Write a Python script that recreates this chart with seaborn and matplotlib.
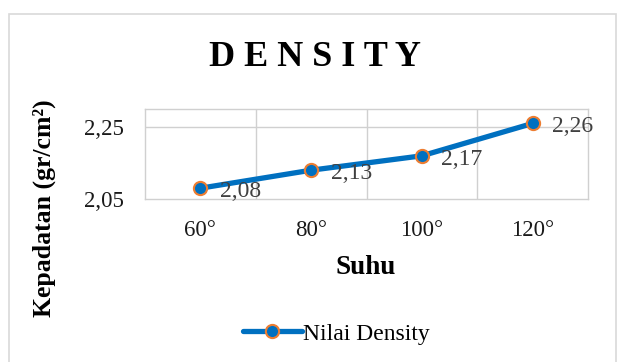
import matplotlib
matplotlib.use("Agg")
import matplotlib.pyplot as plt
import seaborn as sns
import pandas as pd
from matplotlib.patches import Rectangle
from matplotlib.lines import Line2D

categories = ["60°", "80°", "100°", "120°"]
values = [2.08, 2.13, 2.17, 2.26]
y_ticks = [2.05, 2.25]
y_tick_labels = ["2,05", "2,25"]
series_name = "Nilai Density"

sns.set_theme(style="white")
plt.rcParams['font.family'] = ['Liberation Serif', 'DejaVu Serif']

df = pd.DataFrame({"Suhu": categories, "val": values})

fig = plt.figure(figsize=(6.19, 3.62), dpi=100)
ax = fig.add_axes([145/619, 1-199/362, (588-145)/619, (199-109)/362])

blue = "#0070C0"
orange = "#ED7D31"
sns.lineplot(data=df, x="Suhu", y="val", ax=ax, color=blue, linewidth=3.8,
             marker="o", markersize=9.5, markerfacecolor=blue,
             markeredgecolor=orange, markeredgewidth=1.5, sort=False)

ax.set_xlim(-0.5, 3.5)
ax.set_ylim(2.05, 2.30)
ax.set_yticks(y_ticks)
ax.set_yticklabels(y_tick_labels)
ax.set_xticks(range(len(categories)))
ax.set_xticklabels(categories)
grid_c = "#D0D0D0"
for xb in [0.5, 1.5, 2.5]:
    ax.axvline(xb, color=grid_c, lw=1, zorder=0)
for yv in [2.25]:
    ax.axhline(yv, color=grid_c, lw=1, zorder=0)
for s in ax.spines.values():
    s.set_color(grid_c)
    s.set_linewidth(1)
ax.tick_params(axis="both", length=0, labelsize=16.5, colors="#1a1a1a")
ax.tick_params(axis="y", pad=15)
ax.tick_params(axis="x", pad=15)

for i, v in enumerate(values):
    ax.annotate(f"{v:.2f}".replace(".", ","), (i, v), xytext=(14, -2.5),
                textcoords="offset points", ha="left", va="center",
                fontsize=17, color="#404040")

ax.set_xlabel("")
ax.set_ylabel("")
fig.text(366/619, 1-267/362, "Suhu", ha="center", va="center",
         fontsize=19.5, fontweight="bold", color="black")
fig.text(44/619, 1-208/362, "Kepadatan (gr/cm²)", rotation=90, ha="center", va="center",
         fontsize=18.5, fontweight="bold", color="black")

fig.text(315/619, 1-57/362, "D E N S I T Y", ha="center", va="center",
         fontsize=26, fontweight="bold", color="black")

h = Line2D([], [], color=blue, lw=3.8, marker="o", markersize=9.5,
           markerfacecolor=blue, markeredgecolor=orange, markeredgewidth=1.5)
fig.legend([h], [series_name], loc="center", bbox_to_anchor=(336/619, 1-334/362),
           frameon=False, fontsize=17, handlelength=2.5, handletextpad=0.05,
           labelcolor="black")

fig.patches.append(Rectangle((9/619, -0.05), (616-9)/619, 1.05-14/362,
                             transform=fig.transFigure, fill=False,
                             edgecolor="#D9D9D9", lw=1.2))

fig.savefig("out.png", dpi=100)
